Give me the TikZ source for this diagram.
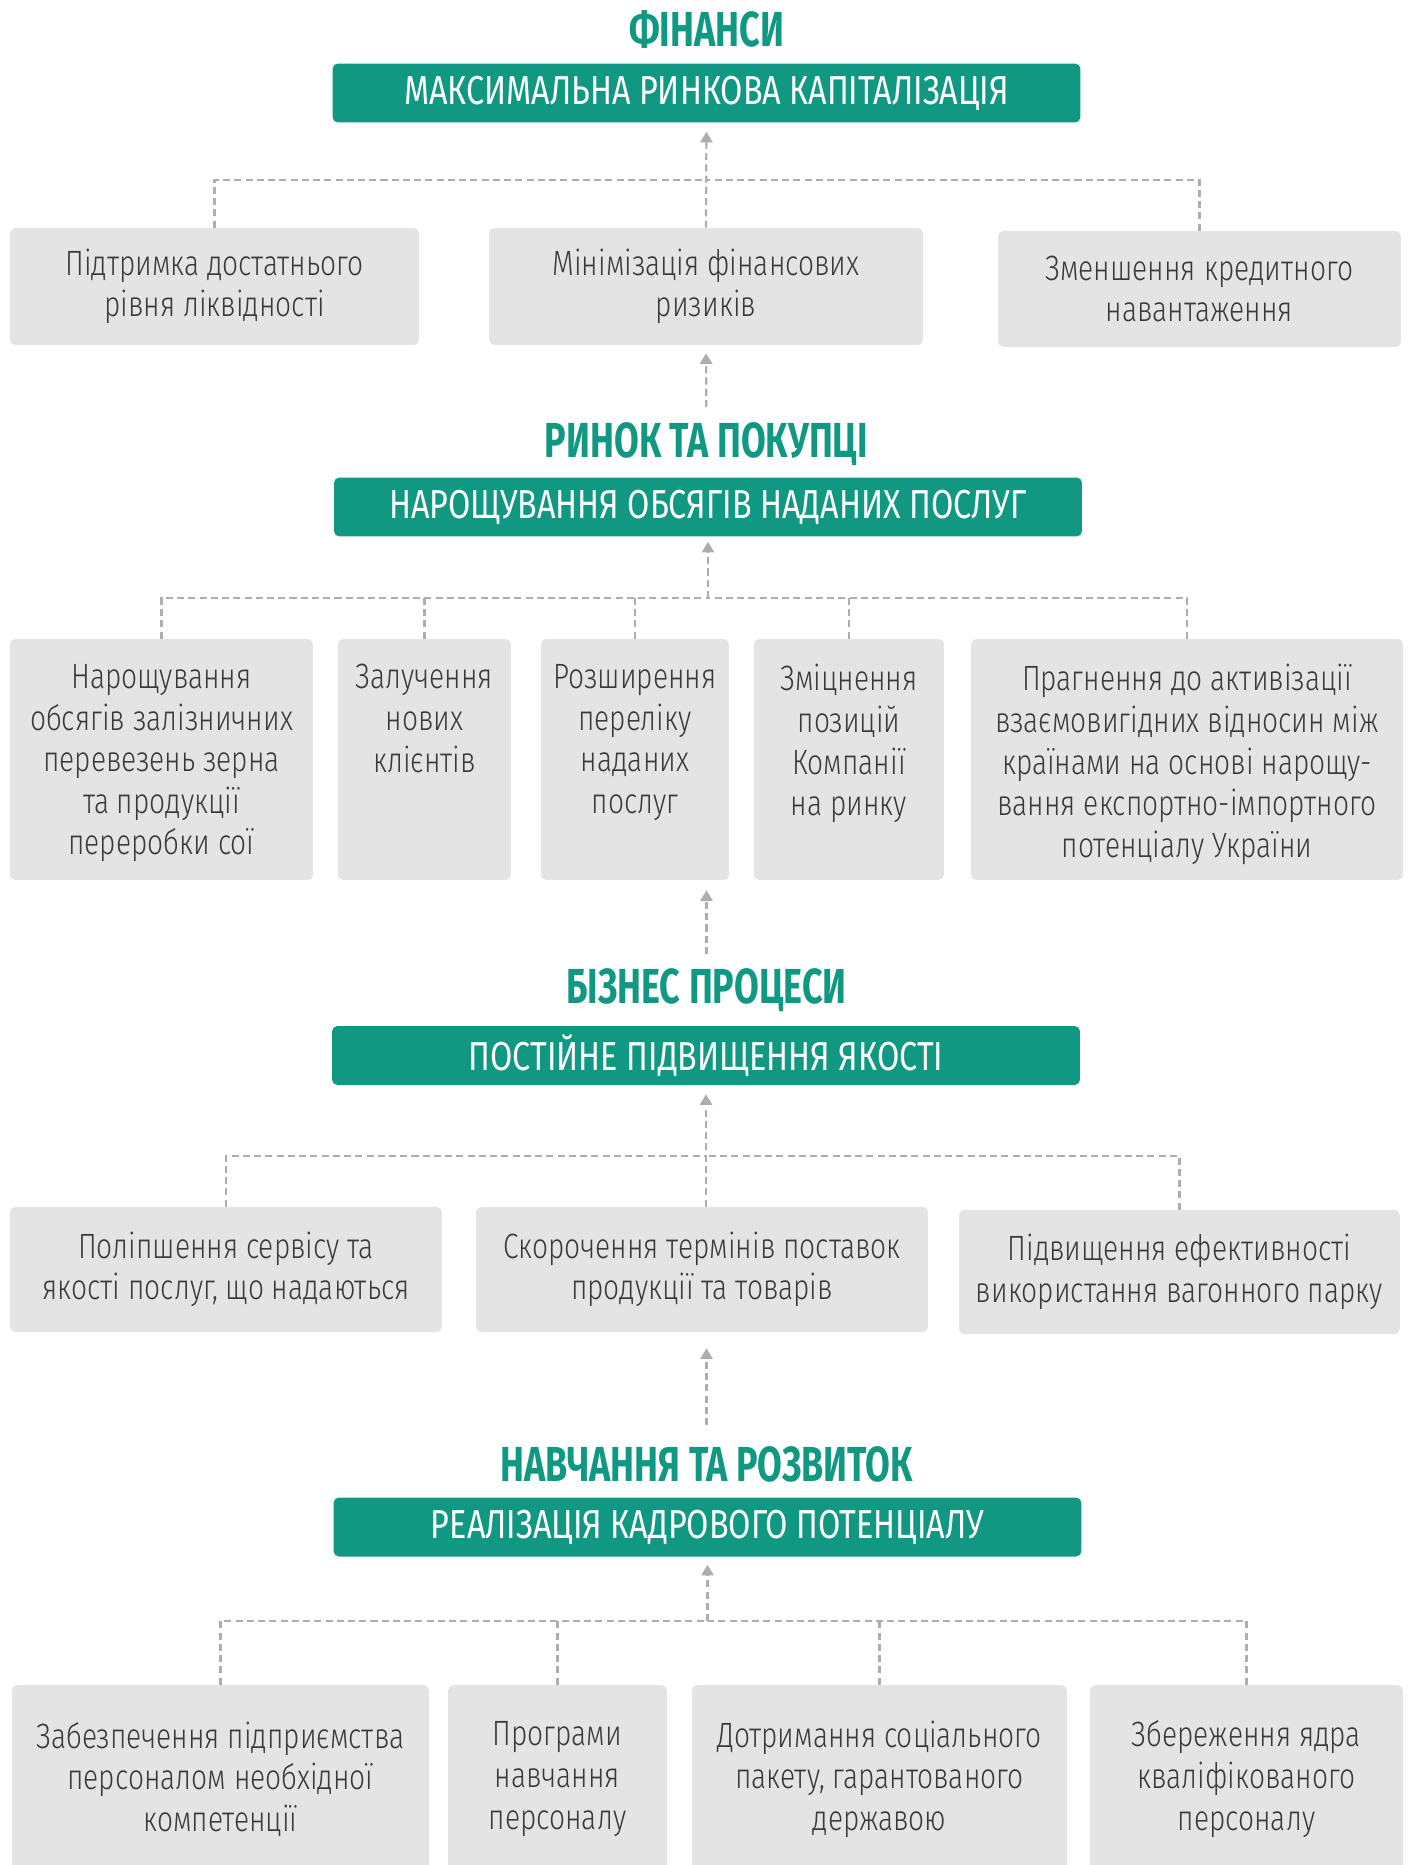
\documentclass[tikz,border=0pt]{standalone}
\usepackage{fontspec}
\setmainfont{Fira Sans Light}[FakeStretch=0.80]
\newfontfamily\headfont{Fira Sans}[FakeStretch=0.73]
\newfontfamily\goalfont{Fira Sans}[FakeStretch=0.80]
\usepackage{xcolor}
\usetikzlibrary{arrows.meta,positioning,calc}

\definecolor{kpigreen}{HTML}{119882}
\definecolor{cardgray}{HTML}{E4E4E5}
\definecolor{cardtext}{HTML}{3A3A3C}
\definecolor{dashgray}{HTML}{ADADB1}

\newcommand{\toptext}[2]{\parbox[c][3.8cm][t]{#1}{\centering #2}}

\begin{document}
\begin{tikzpicture}[x=0.02cm, y=-0.02cm]
    \tikzstyle{heading} = [font=\headfont\bfseries\fontsize{28}{30}\selectfont, text=kpigreen, inner sep=0pt]
    \tikzstyle{goal} = [rectangle, rounded corners=3pt, fill=kpigreen, text=white, minimum width=14.96cm, minimum height=1.18cm, font=\goalfont\fontsize{23}{25}\selectfont]
    \tikzstyle{task} = [rectangle, rounded corners=3pt, fill=cardgray, text=cardtext, align=center, inner sep=0pt, font=\fontsize{20}{23.65}\selectfont]
    \tikzstyle{link} = [draw=dashgray, line width=1.25pt, dash pattern=on 4pt off 2.4pt]
    \tikzstyle{up} = [link, -{Triangle[width=7pt, length=6pt]}]

    \path[use as bounding box, clip] (0,0) rectangle (1413,1865);

    % Фінанси
    \node[heading] (fintitle) at (706.5,30) {ФІНАНСИ};
    \node[goal] (capital) at (706.5,93) {МАКСИМАЛЬНА РИНКОВА КАПІТАЛІЗАЦІЯ};
    \node[task, minimum width=8.18cm, minimum height=2.34cm] (liquidity) at (214.5,286.5) {Підтримка достатнього\\рівня ліквідності};
    \node[task, minimum width=8.68cm, minimum height=2.34cm] (risks) at (706,286.5) {Мінімізація фінансових\\ризиків};
    \node[task, minimum width=8.06cm, minimum height=2.32cm] (credit) at (1199.5,289) {Зменшення кредитного\\навантаження};

    % Ринок та покупці
    \node[heading] (markettitle) at (706.5,444) {РИНОК ТА ПОКУПЦІ};
    \node[goal] (volume) at (708,507) {НАРОЩУВАННЯ ОБСЯГІВ НАДАНИХ ПОСЛУГ};
    \node[task, minimum width=6.06cm, minimum height=4.82cm] (grain) at (161.5,759.5) {\toptext{6cm}{Нарощування\\обсягів залізничних\\перевезень зерна\\та продукції\\переробки сої}};
    \node[task, minimum width=3.46cm, minimum height=4.82cm] (clients) at (424.5,759.5) {\toptext{3.4cm}{Залучення\\нових\\клієнтів}};
    \node[task, minimum width=3.76cm, minimum height=4.82cm] (services) at (635,759.5) {\toptext{3.7cm}{Розширення\\переліку\\наданих\\послуг}};
    \node[task, minimum width=3.8cm, minimum height=4.82cm] (position) at (849,759.5) {\toptext{3.7cm}{Зміцнення\\позицій\\Компанії\\на ринку}};
    \node[task, minimum width=8.64cm, minimum height=4.82cm] (export) at (1187,759.5) {\toptext{8.5cm}{Прагнення до активізації\\взаємовигідних відносин між\\країнами на основі нарощу-\\вання експортно-імпортного\\потенціалу України}};

    % Бізнес процеси
    \node[heading] (proctitle) at (706.5,990) {БІЗНЕС ПРОЦЕСИ};
    \node[goal] (quality) at (706,1055.5) {ПОСТІЙНЕ ПІДВИЩЕННЯ ЯКОСТІ};
    \node[task, minimum width=8.64cm, minimum height=2.5cm] (service) at (226,1269.5) {Поліпшення сервісу та\\якості послуг, що надаються};
    \node[task, minimum width=9.04cm, minimum height=2.5cm] (delivery) at (702,1269.5) {Скорочення термінів поставок\\продукції та товарів};
    \node[task, minimum width=8.82cm, minimum height=2.48cm] (wagons) at (1179.5,1272) {Підвищення ефективності\\використання вагонного парку};

    % Навчання та розвиток
    \node[heading] (learntitle) at (706.5,1464) {НАВЧАННЯ ТА РОЗВИТОК};
    \node[goal] (staff) at (707.5,1527) {РЕАЛІЗАЦІЯ КАДРОВОГО ПОТЕНЦІАЛУ};
    \node[task, minimum width=8.34cm, minimum height=3.76cm] (competence) at (220.5,1779) {Забезпечення підприємства\\персоналом необхідної\\компетенції};
    \node[task, minimum width=4.38cm, minimum height=3.76cm] (training) at (557.5,1779) {Програми\\навчання\\персоналу};
    \node[task, minimum width=7.5cm, minimum height=3.76cm] (social) at (879.5,1779) {Дотримання соціального\\пакету, гарантованого\\державою};
    \node[task, minimum width=6.26cm, minimum height=3.76cm] (core) at (1246.5,1779) {Збереження ядра\\кваліфікованого\\персоналу};

    % Зв'язки
    \coordinate (bus1) at (706,180);
    \coordinate (bus2) at (708,598);
    \coordinate (bus3) at (706,1156);
    \coordinate (bus4) at (707.5,1621);

    \draw[link] (liquidity.north) |- (bus1);
    \draw[link] (credit.north) |- (bus1);
    \draw[up, shorten >=0.18cm] (risks.north) -- (capital.south);

    \draw[up, shorten <=0.74cm, shorten >=0.16cm] (markettitle.center) -- (risks.south);
    \draw[link] (grain.north) |- (bus2);
    \draw[link] (export.north) |- (bus2);
    \draw[link] (clients.north) -- (clients.north |- bus2);
    \draw[link] (services.north) -- (services.north |- bus2);
    \draw[link] (position.north) -- (position.north |- bus2);
    \draw[up, shorten >=0.1cm] (bus2) -- (volume.south);

    \draw[up, shorten <=0.72cm, shorten >=0.2cm] (proctitle.center) -- (proctitle.center |- services.south);
    \draw[link] (service.north) |- (bus3);
    \draw[link] (wagons.north) |- (bus3);
    \draw[up, shorten >=0.18cm] (bus3 |- delivery.north) -- (quality.south);

    \draw[up, shorten <=0.78cm, shorten >=0.32cm] (learntitle.center) -- (learntitle.center |- delivery.south);
    \draw[link] (competence.north) |- (bus4);
    \draw[link] (core.north) |- (bus4);
    \draw[link] (training.north) -- (training.north |- bus4);
    \draw[link] (social.north) -- (social.north |- bus4);
    \draw[up, shorten >=0.16cm] (bus4) -- (staff.south);
\end{tikzpicture}
\end{document}
